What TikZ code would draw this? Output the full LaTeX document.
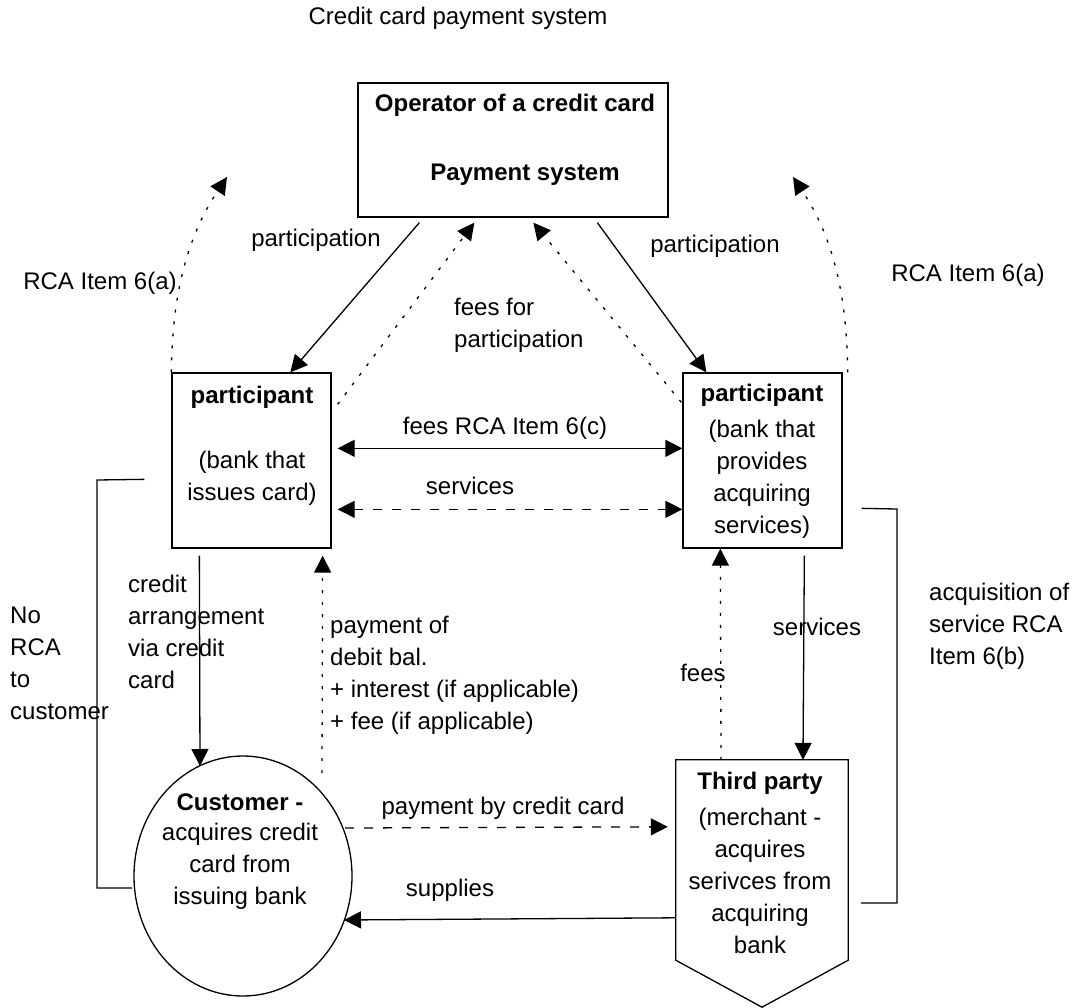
\documentclass[tikz,border=0pt]{standalone}
\usepackage{fontspec}
\setmainfont{Liberation Sans}
\usetikzlibrary{arrows.meta,shapes.geometric,calc}
\begin{document}
\begin{tikzpicture}[x=1pt,y=-1pt,
  txt/.style={inner sep=0pt, font=\fontsize{24}{32}\selectfont},
  btxt/.style={inner sep=0pt, font=\fontsize{24}{32}\selectfont\bfseries},
  box/.style={draw, line width=1.3pt, inner sep=0pt},
  conn/.style={line width=1.3pt},
  tip/.style={-{Triangle[length=17pt,width=17pt]}},
  twotip/.style={{Triangle[length=17pt,width=17pt]}-{Triangle[length=17pt,width=17pt]}},
  dots/.style={dash pattern=on 3pt off 9pt},
  dsh/.style={dash pattern=on 9pt off 10pt}]
\useasboundingbox (0,0) rectangle (1076,1008);

% title
\node[txt] (title) at (458,18) {Credit card payment system};

% main nodes
\node[box, minimum width=310pt, minimum height=134pt] (top) at (513,150) {};
\node[box, minimum width=159pt, minimum height=175pt] (lp) at (251.5,460.5) {};
\node[box, minimum width=159pt, minimum height=175pt] (rp) at (762.5,460.5) {};
\node[box, ellipse, minimum width=218pt, minimum height=240pt] (cust) at (243,876) {};
\node[inner sep=0pt, minimum width=172pt, minimum height=200pt] (third) at (762,860) {};
\draw[line width=1.3pt] (third.north west) -- (third.north east) -- (third.south east)
  -- ($(third.south)+(0,47)$) -- (third.south west) -- cycle;

% texts in nodes
\node[btxt] (topA) at (515,105) {Operator of a credit card};
\node[btxt] (topB) at (525,175) {Payment system};
\node[btxt] (lpA) at (252,397) {participant};
\node[txt, align=center] (lpB) at (252,478) {(bank that\\issues card)};
\node[btxt] (rpA) at (762,395) {participant};
\node[txt, align=center] (rpB) at (762,479) {(bank that\\provides\\acquiring\\services)};
\node[btxt] (custA) at (240,802) {Customer -};
\node[txt, align=center] (custB) at (240,866) {acquires credit\\card from\\issuing bank};
\node[btxt] (thA) at (760,783) {Third party};
\node[txt, align=center] (thB) at (760,881) {(merchant -\\acquires\\serivces from\\acquiring\\bank};

% labels
\node[txt] (lblPartL) at (316,240) {participation};
\node[txt] (lblPartR) at (715,246) {participation};
\node[txt] (lblRcaL) at (100,283) {RCA Item 6(a)};
\node[txt] (lblRcaR) at (968,275) {RCA Item 6(a)};
\node[txt, align=left, anchor=west] (lblFees) at (454,325) {fees for\\participation};
\node[txt] (lblFees6c) at (505,428) {fees RCA Item 6(c)};
\node[txt] (lblServ) at (470,486) {services};
\node[txt, align=left, anchor=west] (lblNo) at (10,663) {No\\RCA\\to\\customer};
\node[txt, align=left, anchor=west] (lblCredit) at (128,632) {credit\\arrangement\\via credit\\card};
\node[txt, align=left, anchor=west] (lblPay) at (330,675) {payment of\\debit bal.\\+ interest (if applicable)\\+ fee (if applicable)};
\node[txt] (lblServR) at (817,627) {services};
\node[txt] (lblFeesR) at (703,673) {fees};
\node[txt, align=left, anchor=west] (lblAcq) at (929,626) {acquisition of\\service RCA\\Item 6(b)};
\node[txt] (lblPayCC) at (503,808) {payment by credit card};
\node[txt] (lblSup) at (450,890) {supplies};

% free end points
\coordinate (rcaL) at (227,177);
\coordinate (rcaR) at (793,177);
\coordinate (payTop) at (322,773);

% connectors top
\draw[conn,tip] ($(top.south west)+(62,5)$) -- ($(lp.north west)+(119,0)$);
\draw[conn,dots,tip] ($(lp.north east)+(6,32)$) -- ($(top.south west)+(117,5)$);
\draw[conn,dots,tip] ($(rp.north west)+(-1,30)$) -- ($(top.south west)+(176,5)$);
\draw[conn,tip] ($(top.south west)+(240,5)$) -- ($(rp.north west)+(24,0)$);
\draw[conn,dots,tip] (lp.north west) .. controls (172,300) and (185,240) .. (rcaL);
\draw[conn,dots,tip] ($(rp.north east)+(5,0)$) .. controls (847,300) and (835,240) .. (rcaR);

% between participants
\draw[conn,twotip] ($(lp.north east)+(6,76)$) -- ($(rp.north west)+(0,76)$);
\draw[conn,dsh,twotip] ($(lp.north east)+(6,137)$) -- ($(rp.north west)+(0,137)$);

% left side
\draw[conn] ($(lp.north west)+(-27,107)$) -- (97,480) -- (97,888) -- (132,888);
\draw[conn,tip] ($(lp.south west)+(28,7)$) -- ($(cust.center)+(-43,-110)$);
\draw[conn,dots,tip] (payTop) -- ($(lp.south east)+(-9,7)$);

% right side
\draw[conn,tip] ($(rp.south west)+(122,7)$) -- ($(third.north)+(41,0)$);
\draw[conn,dots,tip] ($(third.north)+(-41,0)$) -- ($(rp.south west)+(38,0)$);
\draw[conn] ($(rp.north east)+(19,136)$) -- (897,509) -- (897,903) -- (861,903);

% bottom
\draw[conn,dsh,tip] ($(cust.center)+(102,-48)$) -- ($(third.north west)+(-8,67)$);
\draw[conn,tip] ($(third.north west)+(0,158)$) -- ($(cust.center)+(101,44)$);
\end{tikzpicture}
\end{document}
